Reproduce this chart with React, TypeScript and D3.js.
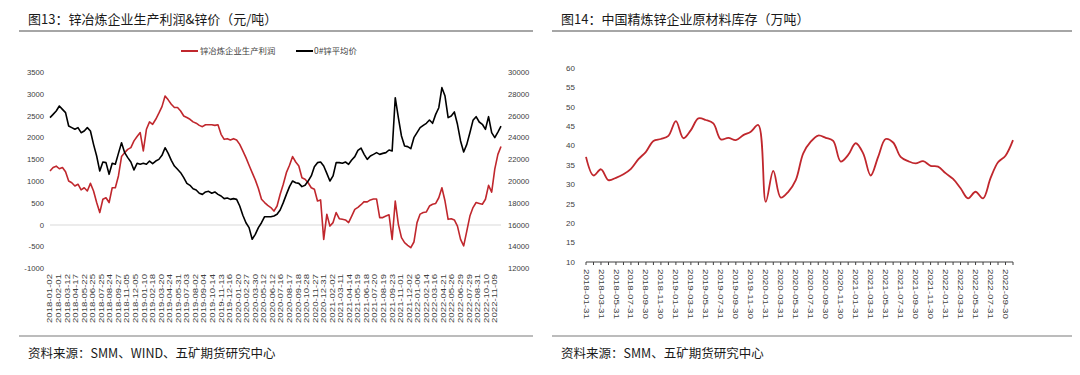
import React from "react";
import * as d3 from "d3";

// ---------- Left chart data (sampled every STEP trading days) ----------
const STEP = 8;
const LABEL_STEP = 22;
const leftDates = [
  "2018-01-02","2018-02-01","2018-03-12","2018-04-17","2018-05-22","2018-06-25","2018-07-25","2018-08-24","2018-09-27","2018-11-05",
  "2018-12-05","2019-01-10","2019-02-18","2019-03-20","2019-04-24","2019-05-31","2019-07-03","2019-08-02","2019-09-04","2019-10-14",
  "2019-11-13","2019-12-16","2020-01-20","2020-02-27","2020-03-30","2020-05-12","2020-06-12","2020-07-16","2020-08-17","2020-09-18",
  "2020-10-28","2020-11-27","2020-12-31","2021-02-02","2021-03-11","2021-04-14","2021-05-19","2021-06-18","2021-07-20","2021-08-19",
  "2021-09-23","2021-11-01","2021-12-02","2022-01-06","2022-02-14","2022-03-16","2022-04-21","2022-05-26","2022-06-29","2022-07-29",
  "2022-08-31","2022-10-10","2022-11-09",
];
const profit = [
  1240,1320,1350,1290,1320,1220,1010,970,895,935,
  805,855,780,955,780,515,285,590,625,515,
  855,855,1125,1570,1660,1735,1775,1930,2030,2120,
  1700,2195,2365,2310,2425,2565,2715,2960,2870,2770,
  2695,2695,2615,2500,2465,2425,2365,2335,2285,2255,
  2300,2300,2300,2285,2300,2080,1965,1980,1950,1980,
  1950,1850,1700,1545,1370,1200,1035,835,590,515,
  450,400,320,435,705,935,1200,1370,1570,1445,
  1355,1085,1050,970,855,820,550,575,-330,245,
  -25,55,285,145,130,115,55,205,360,405,
  465,535,530,575,595,595,170,170,205,235,
  -330,550,15,-290,-405,-465,-520,-390,55,250,
  285,300,435,475,495,625,855,550,130,145,
  115,-25,-330,-480,-140,205,400,515,495,475,
  590,910,755,1280,1620,1800,
];
const price = [
  25850,26150,26460,26920,26610,26310,25080,24930,24780,24930,
  24470,24620,24930,24620,23400,22330,20950,21780,21720,20650,
  21660,21570,22570,23550,22640,22180,21780,21050,21660,21570,
  21660,21570,21870,21630,21870,22020,22390,23090,22570,21930,
  21410,21110,20800,20340,19820,19640,19330,19210,18910,18810,
  19030,19090,18910,19030,18810,18660,18420,18480,18350,18420,
  18350,17740,16890,16210,15760,14690,15140,15760,16210,16760,
  16760,16760,16830,16980,17380,18050,18810,19520,20040,19880,
  19820,19520,19640,20040,20500,21350,21720,21780,21410,20740,
  20040,20500,21720,21720,21660,21780,21570,21960,22270,22850,
  23060,22480,22020,22330,22480,22640,22480,22570,22640,22880,
  22790,27680,25850,24165,23250,23190,23000,24010,24470,24930,
  25140,25330,25630,25330,26150,26760,28600,27830,25850,26000,
  26370,25240,23710,22700,23400,24470,25600,25940,25450,25240,
  24780,25940,24470,24010,24530,25080,
];
const leftTicks = [-1000, -500, 0, 500, 1000, 1500, 2000, 2500, 3000, 3500];
const rightTicks = [12000, 14000, 16000, 18000, 20000, 22000, 24000, 26000, 28000, 30000];
const leftSeriesNames = ["锌冶炼企业生产利润", "0#锌平均价"];

// ---------- Right chart data (monthly) ----------
const rightDates = [
  "2018-01-31","2018-03-31","2018-05-31","2018-07-31","2018-09-30","2018-11-30",
  "2019-01-31","2019-03-31","2019-05-31","2019-07-31","2019-09-30","2019-11-30",
  "2020-01-31","2020-03-31","2020-05-31","2020-07-31","2020-09-30","2020-11-30",
  "2021-01-31","2021-03-31","2021-05-31","2021-07-31","2021-09-30","2021-11-30",
  "2022-01-31","2022-03-31","2022-05-31","2022-07-31","2022-09-30",
];
const inventory = [
  37.1, 32.3, 33.9, 31.1, 31.7, 32.6, 34.0, 36.5, 38.4, 41.2, 41.7, 42.5,
  46.3, 41.9, 44.0, 47.0, 46.6, 45.7, 41.6, 42.0, 41.4, 42.7, 43.6, 45.3,
  25.5, 33.5, 26.6, 28.1, 31.1, 38.0, 41.0, 42.6, 42.0, 41.2, 35.9, 37.6,
  40.6, 38.0, 32.3, 37.1, 41.7, 40.8, 37.1, 36.0, 35.4, 36.0, 34.8, 34.6,
  32.9, 31.4, 29.0, 26.4, 28.1, 26.4, 31.6, 35.7, 37.4, 41.4,
];
const invTicks = [10, 15, 20, 25, 30, 35, 40, 45, 50, 55, 60];

const RED = "#C0272D";
const CJK = "'Noto Sans CJK SC', 'Noto Sans', sans-serif";
const NUM = "'Liberation Sans', Arial, sans-serif";
const TXT = "#404040";

export default function App() {
  // left scales
  const lastIdx = (profit.length - 1) * STEP;
  const xL = d3.scaleLinear().domain([0, lastIdx]).range([50, 501]);
  const yL = d3.scaleLinear().domain([-1000, 3500]).range([268.6, 72.4]);
  const yR = d3.scaleLinear().domain([12000, 30000]).range([268.6, 72.4]);
  const profitLine = d3.line<number>().x((_, i) => xL(i * STEP)).y((d) => yL(d));
  const priceLine = d3.line<number>().x((_, i) => xL(i * STEP)).y((d) => yR(d));

  // right scales
  const xM = d3.scaleLinear().domain([0, inventory.length - 1]).range([586, 1013]);
  const yM = d3.scaleLinear().domain([10, 60]).range([262, 68]);
  const invLine = d3.line<number>().x((_, i) => xM(i)).y((d) => yM(d)).curve(d3.curveCatmullRom.alpha(0.5));

  return (
    <svg width={1080} height={375} style={{ position: "fixed", left: 0, top: 0, background: "#fff" }}>
      <rect width={1080} height={375} fill="#fff" />
      {/* ---------- Left panel ---------- */}
      <text x={28} y={24} fontFamily={CJK} fontSize={13} fill="#1a1a1a">图13：锌冶炼企业生产利润&amp;锌价（元/吨）</text>
      <line x1={19} x2={533} y1={31} y2={31} stroke="#A6A6A6" strokeWidth={2} />
      {/* legend */}
      <line x1={181} x2={198} y1={51} y2={51} stroke={RED} strokeWidth={2} />
      <text x={200} y={54} fontFamily={CJK} fontSize={8.4} fill={TXT}>{leftSeriesNames[0]}</text>
      <line x1={296} x2={313} y1={51} y2={51} stroke="#000" strokeWidth={2} />
      <text x={314} y={54} fontFamily={CJK} fontSize={8.4} fill={TXT}>{leftSeriesNames[1]}</text>
      {/* zero line */}
      <line x1={xL(0)} x2={xL(lastIdx)} y1={yL(0)} y2={yL(0)} stroke="#D9D9D9" strokeWidth={1} />
      {leftTicks.map((t) => (
        <text key={"lt" + t} x={44} y={yL(t)} dy="0.35em" textAnchor="end" fontFamily={NUM} fontSize={7.7} fill={TXT}>{t}</text>
      ))}
      {rightTicks.map((t) => (
        <text key={"rt" + t} x={508} y={yR(t)} dy="0.35em" textAnchor="start" fontFamily={NUM} fontSize={7.7} fill={TXT}>{t}</text>
      ))}
      {leftDates.map((d, i) => {
        const x = xL(i * LABEL_STEP);
        return (
          <text key={"ld" + i} transform={`translate(${x},274) rotate(-90)`} dy="0.35em" textAnchor="end"
            fontFamily={NUM} fontSize={7} fill={TXT} textLength={49} lengthAdjust="spacingAndGlyphs">{d}</text>
        );
      })}
      <path d={profitLine(profit) || ""} fill="none" stroke={RED} strokeWidth={1.6} strokeLinejoin="round" />
      <path d={priceLine(price) || ""} fill="none" stroke="#000" strokeWidth={1.6} strokeLinejoin="round" />
      <line x1={19} x2={533} y1={336} y2={336} stroke="#A6A6A6" strokeWidth={1.5} />
      <text x={28} y={358} fontFamily={CJK} fontSize={12.5} fill="#1a1a1a">资料来源：SMM、WIND、五矿期货研究中心</text>

      {/* ---------- Right panel ---------- */}
      <text x={561} y={24} fontFamily={CJK} fontSize={13} fill="#1a1a1a">图14：中国精炼锌企业原材料库存（万吨）</text>
      <line x1={552} x2={1072} y1={31} y2={31} stroke="#A6A6A6" strokeWidth={2} />
      {invTicks.map((t) => (
        <text key={"it" + t} x={575} y={yM(t)} dy="0.35em" textAnchor="end" fontFamily={NUM} fontSize={8} fill={TXT}>{t}</text>
      ))}
      <line x1={xM(0)} x2={xM(inventory.length - 1)} y1={yM(10)} y2={yM(10)} stroke="#404040" strokeWidth={1.2} />
      {inventory.map((_, i) => (
        <line key={"tk" + i} x1={xM(i)} x2={xM(i)} y1={yM(10)} y2={yM(10) + 3} stroke="#404040" strokeWidth={1} />
      ))}
      {rightDates.map((d, i) => {
        const x = xM(i * 2);
        return (
          <text key={"rd" + i} transform={`translate(${x},269) rotate(90)`} dy="0.35em" textAnchor="start"
            fontFamily={NUM} fontSize={7} fill={TXT} textLength={50} lengthAdjust="spacingAndGlyphs">{d}</text>
        );
      })}
      <path d={invLine(inventory) || ""} fill="none" stroke={RED} strokeWidth={1.8} strokeLinejoin="round" />
      <line x1={552} x2={1072} y1={336} y2={336} stroke="#A6A6A6" strokeWidth={1.5} />
      <text x={561} y={358} fontFamily={CJK} fontSize={12.5} fill="#1a1a1a">资料来源：SMM、五矿期货研究中心</text>
    </svg>
  );
}
